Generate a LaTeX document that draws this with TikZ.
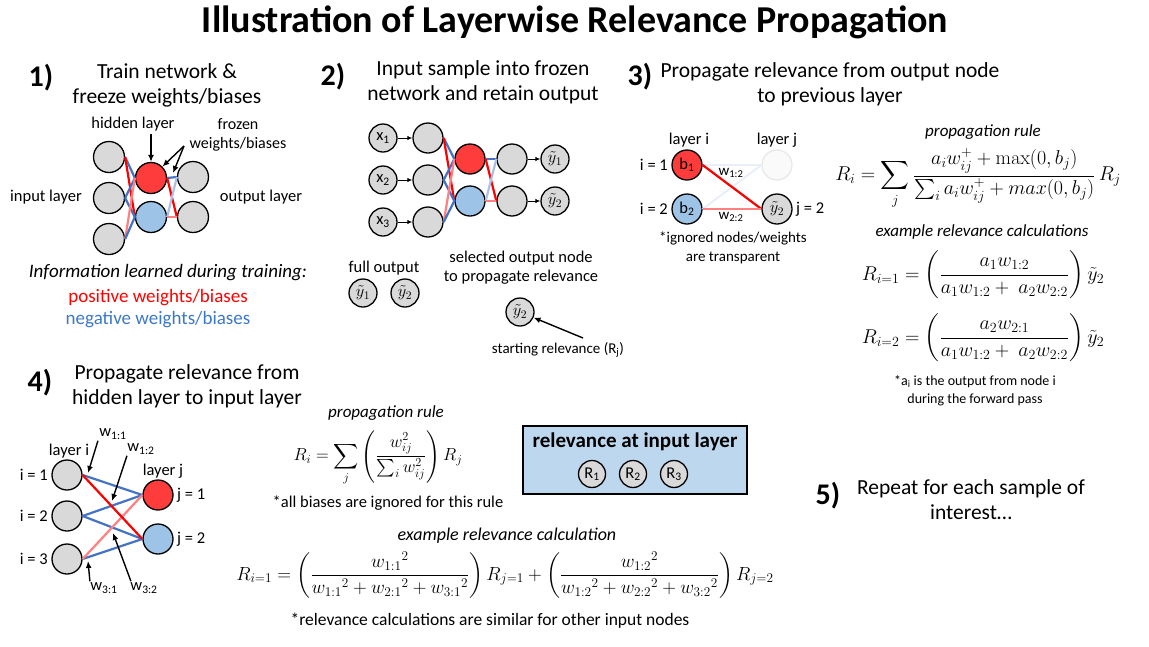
\documentclass[tikz,border=0pt]{standalone}
\usepackage{fix-cm}
\usepackage{amsmath,amssymb}
\usepackage[no-math]{fontspec}
\setmainfont{Carlito}
\usepackage{tikz}
\usetikzlibrary{positioning,arrows.meta}
\definecolor{lrpred}{RGB}{255,60,60}
\definecolor{lrpblue}{RGB}{157,195,230}
\definecolor{edgered}{RGB}{255,0,0}
\definecolor{edgeblue}{RGB}{68,114,196}
\definecolor{nodegray}{RGB}{217,217,217}
\definecolor{boxblue}{RGB}{189,215,238}
\definecolor{negblue}{RGB}{60,120,200}

\begin{document}
\begin{tikzpicture}[x=1pt,y=-1pt,
    neuron/.style={circle,draw,line width=1.3pt,fill=nodegray,minimum size=31pt,inner sep=0pt},
    posunit/.style={neuron,fill=lrpred},
    negunit/.style={neuron,fill=lrpblue},
    sunit/.style={neuron,minimum size=28pt,font=\fontsize{16.5}{18}\selectfont},
    posedge/.style={draw=edgered,line width=2.2pt},
    negedge/.style={draw=edgeblue,line width=2.2pt},
    weakpos/.style={draw=edgered!50,line width=2.2pt},
    weakneg/.style={draw=edgeblue!45,line width=2.2pt},
    ghostedge/.style={draw=edgeblue!12,line width=2pt},
    lbl/.style={font=\fontsize{16.5}{19}\selectfont,align=center},
    head/.style={font=\fontsize{21.5}{25}\selectfont,align=center},
    num/.style={font=\bfseries\fontsize{30}{34}\selectfont},
    note/.style={font=\fontsize{14}{18}\selectfont,align=center},
    rulelbl/.style={font=\itshape\fontsize{17}{19}\selectfont},
    eqn/.style={font=\fontsize{20}{23}\selectfont,inner sep=1pt},
    ptr/.style={-{Latex[length=7pt,width=6pt]},line width=1.4pt},
    sptr/.style={-{Latex[length=5pt,width=4.5pt]},line width=1pt}]
  \useasboundingbox (0,0) rectangle (1149,646);

  \node[font=\bfseries\fontsize{38}{44}\selectfont] (title) at (575,22)
    {Illustration of Layerwise Relevance Propagation};

  % 1) training
  \node[num] (n1) at (41,78) {1)};
  \node[head] (h1) at (167,85) {Train network \&\\freeze weights/biases};
  \node[neuron] (p1in1) at (109,157) {};
  \node[neuron] (p1in2) at (109,198) {};
  \node[neuron] (p1in3) at (109,239) {};
  \node[posunit] (p1h1) at (151,178) {};
  \node[negunit] (p1h2) at (151,217) {};
  \node[neuron] (p1out1) at (193,177) {};
  \node[neuron] (p1out2) at (193,217) {};
  \draw[negedge] (p1in1.east) -- (p1h1.west);
  \draw[posedge] (p1in1.east) -- (p1h2.west);
  \draw[negedge] (p1in2.east) -- (p1h1.west);
  \draw[negedge] (p1in2.east) -- (p1h2.west);
  \draw[weakpos] (p1in3.east) -- (p1h1.west);
  \draw[negedge] (p1in3.east) -- (p1h2.west);
  \draw[negedge] (p1h1.east) -- (p1out1.west);
  \draw[posedge] (p1h1.east) -- (p1out2.west);
  \draw[weakneg] (p1h2.east) -- (p1out1.west);
  \draw[weakpos] (p1h2.east) -- (p1out2.west);
  \node[lbl] (hidlbl) at (133,124) {hidden layer};
  \node[lbl,font=\fontsize{16}{19}\selectfont] (frzlbl) at (238,135) {frozen\\weights/biases};
  \node[lbl] (inlbl) at (46,197) {input layer};
  \node[lbl] (outlbl) at (261,197) {output layer};
  \coordinate (hidtail) at (151,134);
  \coordinate (frztail) at (184,146);
  \coordinate (frzhead) at (173,173);
  \draw[ptr] (hidtail) -- (p1h1);
  \draw[ptr] (frztail) -- (p1h1.north east);
  \draw[ptr] (frztail) -- (frzhead);
  \node[lbl,font=\itshape\fontsize{19}{22}\selectfont] (info) at (168,273)
    {Information learned during training:};
  \node[lbl,font=\fontsize{19}{22}\selectfont,text=edgered] (poslbl) at (158,298) {positive weights/biases};
  \node[lbl,font=\fontsize{19}{22}\selectfont,text=negblue] (neglbl) at (158,320) {negative weights/biases};

  % 2) forward pass
  \node[num] (n2) at (333,77) {2)};
  \node[head] (h2) at (483,82) {Input sample into frozen\\network and retain output};
  \node[sunit] (p2x1) at (383,138) {x\textsubscript{1}};
  \node[sunit] (p2x2) at (383,180) {x\textsubscript{2}};
  \node[sunit] (p2x3) at (383,222) {x\textsubscript{3}};
  \node[neuron,minimum size=30pt] (p2in1) at (428,138) {};
  \node[neuron,minimum size=30pt] (p2in2) at (428,180) {};
  \node[neuron,minimum size=30pt] (p2in3) at (428,222) {};
  \node[posunit,minimum size=30pt] (p2h1) at (470,159) {};
  \node[negunit,minimum size=30pt] (p2h2) at (470,201) {};
  \node[neuron,minimum size=30pt] (p2out1) at (512,159) {};
  \node[neuron,minimum size=30pt] (p2out2) at (512,201) {};
  \node[sunit] (p2y1) at (555,159) {$\tilde{y}_1$};
  \node[sunit] (p2y2) at (555,201) {$\tilde{y}_2$};
  \draw[sptr] (p2x1) -- (p2in1);
  \draw[sptr] (p2x2) -- (p2in2);
  \draw[sptr] (p2x3) -- (p2in3);
  \draw[sptr] (p2out1) -- (p2y1);
  \draw[sptr] (p2out2) -- (p2y2);
  \draw[negedge] (p2in1.east) -- (p2h1.west);
  \draw[posedge] (p2in1.east) -- (p2h2.west);
  \draw[negedge] (p2in2.east) -- (p2h1.west);
  \draw[negedge] (p2in2.east) -- (p2h2.west);
  \draw[weakpos] (p2in3.east) -- (p2h1.west);
  \draw[negedge] (p2in3.east) -- (p2h2.west);
  \draw[negedge] (p2h1.east) -- (p2out1.west);
  \draw[posedge] (p2h1.east) -- (p2out2.west);
  \draw[weakneg] (p2h2.east) -- (p2out1.west);
  \draw[weakpos] (p2h2.east) -- (p2out2.west);
  \node[lbl] (fulllbl) at (384,268) {full output};
  \node[sunit] (p2full1) at (363,293) {$\tilde{y}_1$};
  \node[sunit] (p2full2) at (405,293) {$\tilde{y}_2$};
  \node[lbl] (sellbl) at (521,268) {selected output node\\to propagate relevance};
  \node[sunit] (p2sel) at (520,312) {$\tilde{y}_2$};
  \node[lbl,font=\fontsize{15}{18}\selectfont] (startlbl) at (558,350) {starting relevance (R\textsubscript{j})};
  \coordinate (starttail) at (583,338);
  \draw[ptr] (starttail) -- (p2sel);

  % 3) output -> hidden
  \node[num] (n3) at (640,77) {3)};
  \node[head] (h3) at (830,84) {Propagate relevance from output node\\to previous layer};
  \node[posunit,minimum size=30pt,font=\fontsize{16.5}{18}\selectfont] (p3b1) at (687,165) {b\textsubscript{1}};
  \node[negunit,minimum size=30pt,font=\fontsize{16.5}{18}\selectfont] (p3b2) at (687,209) {b\textsubscript{2}};
  \node[neuron,minimum size=30pt,draw=gray!18,fill=gray!4] (p3ghost) at (777,165) {};
  \node[sunit,minimum size=30pt] (p3y2) at (777,209) {$\tilde{y}_2$};
  \draw[ghostedge] (p3b1.east) -- (p3ghost.west);
  \draw[ghostedge] (p3b2.east) -- (p3ghost.west);
  \draw[posedge] (p3b1.east) -- (p3y2.west);
  \draw[weakpos] (p3b2.east) -- (p3y2.west);
  \node[lbl] (p3li) at (689,140) {layer i};
  \node[lbl] (p3lj) at (777,140) {layer j};
  \node[lbl,left=0pt of p3b1] (p3i1) {i = 1};
  \node[lbl,left=0pt of p3b2] (p3i2) {i = 2};
  \node[lbl,right=0pt of p3y2] (p3j2) {j = 2};
  \node[lbl,font=\fontsize{15}{18}\selectfont] (p3w12) at (731,173) {w\textsubscript{1:2}};
  \node[lbl,font=\fontsize{15}{18}\selectfont] (p3w22) at (731,217) {w\textsubscript{2:2}};
  \node[note,font=\fontsize{15}{19}\selectfont] (p3note) at (733,248) {*ignored nodes/weights\\are transparent};
  \node[rulelbl] (p3rule) at (983,132) {propagation rule};
  \node[eqn] (p3eq) at (978,179)
    {$\displaystyle R_i = \sum_j \frac{a_i w_{ij}^{+} + \max(0,b_j)}{\sum_i a_i w_{ij}^{+} + max(0,b_j)}\,R_j$};
  \node[rulelbl] (p3ex) at (982,232) {example relevance calculations};
  \node[eqn] (p3eq1) at (983,275)
    {$\displaystyle R_{i=1} = \left(\frac{a_1 w_{1{:}2}}{a_1 w_{1{:}2} +\ a_2 w_{2{:}2}}\right)\tilde{y}_2$};
  \node[eqn] (p3eq2) at (983,338)
    {$\displaystyle R_{i=2} = \left(\frac{a_2 w_{2{:}1}}{a_1 w_{1{:}2} +\ a_2 w_{2{:}2}}\right)\tilde{y}_2$};
  \node[note] (p3anote) at (975,391) {*a\textsubscript{i} is the output from node i\\during the forward pass};

  % 4) hidden -> input
  \node[num] (n4) at (40,383) {4)};
  \node[head] (h4) at (187,386) {Propagate relevance from\\hidden layer to input layer};
  \node[neuron,minimum size=30pt] (p4i1) at (67,475) {};
  \node[neuron,minimum size=30pt] (p4i2) at (67,516) {};
  \node[neuron,minimum size=30pt] (p4i3) at (67,559) {};
  \node[posunit,minimum size=30pt] (p4j1) at (158,495) {};
  \node[negunit,minimum size=30pt] (p4j2) at (158,539) {};
  \draw[negedge] (p4i1.east) -- (p4j1.west);
  \draw[negedge] (p4i2.east) -- (p4j1.west);
  \draw[negedge] (p4i2.east) -- (p4j2.west);
  \draw[negedge] (p4i3.east) -- (p4j2.west);
  \draw[weakpos] (p4i3.east) -- (p4j1.west);
  \draw[posedge] (p4i1.east) -- (p4j2.west);
  \node[lbl] (p4li) at (69,451) {layer i};
  \node[lbl] (p4lj) at (163,471) {layer j};
  \node[lbl,left=0pt of p4i1] (p4n1) {i = 1};
  \node[lbl,left=0pt of p4i2] (p4n2) {i = 2};
  \node[lbl,left=0pt of p4i3] (p4n3) {i = 3};
  \node[lbl,right=0pt of p4j1] (p4m1) {j = 1};
  \node[lbl,right=0pt of p4j2] (p4m2) {j = 2};
  \node[lbl] (w11) at (113,434) {w\textsubscript{1:1}};
  \node[lbl] (w12) at (141,449) {w\textsubscript{1:2}};
  \node[lbl] (w31) at (104,588) {w\textsubscript{3:1}};
  \node[lbl] (w32) at (144,588) {w\textsubscript{3:2}};
  \coordinate (w11h) at (88,473);
  \coordinate (w12h) at (112,501);
  \coordinate (w31h) at (88,561);
  \coordinate (w32h) at (113,533);
  \draw[ptr] (w11.south west) ++(2,-2) -- (w11h);
  \draw[ptr] (w12.south west) ++(3,-2) -- (w12h);
  \draw[ptr] (w31.north west) ++(3,2) -- (w31h);
  \draw[ptr] (w32.north west) ++(4,2) -- (w32h);

  \node[rulelbl] (p4rule) at (386,413) {propagation rule};
  \node[eqn,font=\fontsize{17.5}{20}\selectfont] (p4eq) at (378,458)
    {$\displaystyle R_i = \sum_j \left(\frac{w_{ij}^{2}}{\sum_i w_{ij}^{2}}\right) R_j$};
  \node[note,font=\fontsize{16.5}{18}\selectfont] (p4note) at (388,503) {*all biases are ignored for this rule};

  \node[draw,line width=2.5pt,fill=boxblue,minimum width=224pt,minimum height=68pt] (relbox) at (635,460) {};
  \node[font=\bfseries\fontsize{21}{24}\selectfont] (reltitle) at (635,442) {relevance at input layer};
  \node[sunit,minimum size=27pt] (r1) at (592,474) {R\textsubscript{1}};
  \node[sunit,minimum size=27pt] (r2) at (633,474) {R\textsubscript{2}};
  \node[sunit,minimum size=27pt] (r3) at (674,474) {R\textsubscript{3}};

  \node[rulelbl,font=\itshape\fontsize{18}{20}\selectfont] (p4ex) at (507,536) {example relevance calculation};
  \node[eqn,font=\fontsize{19}{22}\selectfont] (p4eq1) at (505,575)
    {$\displaystyle R_{i=1} = \left(\frac{{w_{1{:}1}}^2}{{w_{1{:}1}}^2 + {w_{2{:}1}}^2 + {w_{3{:}1}}^2}\right) R_{j=1}
      + \left(\frac{{w_{1{:}2}}^2}{{w_{1{:}2}}^2 + {w_{2{:}2}}^2 + {w_{3{:}2}}^2}\right) R_{j=2}$};
  \node[note,font=\fontsize{17.5}{20}\selectfont] (p4note2) at (490,621) {*relevance calculations are similar for other input nodes};

  % 5) repeat
  \node[num] (n5) at (828,496) {5)};
  \node[head] (h5) at (971,500) {Repeat for each sample of\\interest\dots};
\end{tikzpicture}
\end{document}
